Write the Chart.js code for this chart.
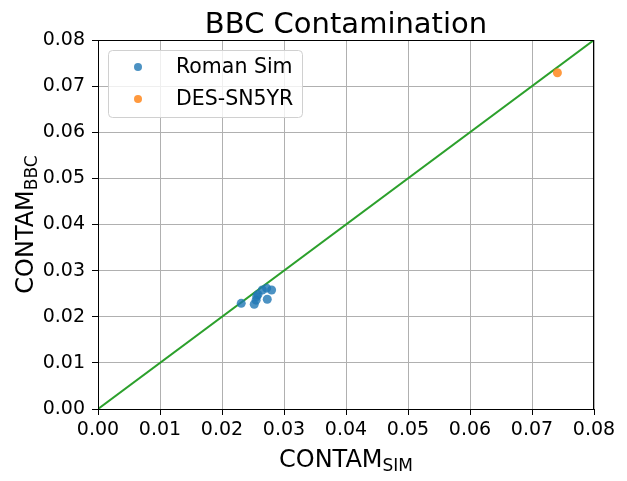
<!DOCTYPE html>
<html lang="en">
<head>
    <meta charset="UTF-8">
    <title>BBC Contamination</title>
    <script src="https://cdn.jsdelivr.net/npm/chart.js"></script>
    <style>
        body { margin: 0; background: #fff; }
        #wrap { width: 627px; height: 481px; }
    </style>
</head>
<body>
<div id="wrap"><canvas id="chart"></canvas></div>
<script>
  // Data
  const romanSimX = [0.0231, 0.0252, 0.0255, 0.0256, 0.0258, 0.0265, 0.0272, 0.0280, 0.0273];
  const romanSimY = [0.0229, 0.0227, 0.0236, 0.0244, 0.0248, 0.0258, 0.0262, 0.0258, 0.0238];
  const desX = [0.0741];
  const desY = [0.0729];
  const lineX = [0, 0.08];
  const lineY = [0, 0.08];
  const seriesNames = ['Roman Sim', 'DES-SN5YR'];
  const chartTitle = 'BBC Contamination';

  const FONT = "'DejaVu Sans', sans-serif";
  const blue = 'rgba(31,119,180,0.8)';
  const orange = 'rgba(255,127,14,0.8)';
  const toPoints = (xs, ys) => xs.map((x, i) => ({ x: x, y: ys[i] }));

  // title, axis labels with subscripts, frame and legend
  const decor = {
    id: 'decor',
    afterDraw(chart) {
      const ctx = chart.ctx;
      const a = chart.chartArea;
      ctx.save();
      ctx.strokeStyle = '#000';
      ctx.lineWidth = 1;
      ctx.strokeRect(a.left + 0.5, a.top + 0.5, a.right - a.left - 1, a.bottom - a.top);

      ctx.fillStyle = '#000';
      ctx.textBaseline = 'alphabetic';
      ctx.font = '29px ' + FONT;
      ctx.textAlign = 'center';
      ctx.fillText(chartTitle, (a.left + a.right) / 2, 33);

      function subLabel(main, sub, cx, cy) {
        ctx.font = '24px ' + FONT;
        const w1 = ctx.measureText(main).width;
        ctx.font = '17px ' + FONT;
        const w2 = ctx.measureText(sub).width;
        const x0 = cx - (w1 + w2) / 2;
        ctx.textAlign = 'left';
        ctx.font = '24px ' + FONT;
        ctx.fillText(main, x0, cy);
        ctx.font = '17px ' + FONT;
        ctx.fillText(sub, x0 + w1, cy + 4);
      }
      subLabel('CONTAM', 'SIM', (a.left + a.right) / 2, 467);
      ctx.save();
      ctx.translate(33, (a.top + a.bottom) / 2);
      ctx.rotate(-Math.PI / 2);
      subLabel('CONTAM', 'BBC', 0, 0);
      ctx.restore();

      // legend
      const lx = 108, ly = 50, lw = 194, lh = 67;
      ctx.fillStyle = 'rgba(255,255,255,0.8)';
      ctx.strokeStyle = '#d0d0d0';
      ctx.beginPath();
      ctx.roundRect(lx + 0.5, ly + 0.5, lw, lh, 4);
      ctx.fill();
      ctx.stroke();
      const cols = [blue, orange];
      ctx.font = '20.5px ' + FONT;
      ctx.textAlign = 'left';
      ctx.textBaseline = 'middle';
      seriesNames.forEach((name, i) => {
        const y = 67 + i * 32;
        ctx.fillStyle = cols[i];
        ctx.beginPath();
        ctx.arc(138, y, 4, 0, Math.PI * 2);
        ctx.fill();
        ctx.fillStyle = '#000';
        ctx.fillText(name, 176, y + 1);
      });
      ctx.restore();
    }
  };

  const tickFont = { family: FONT, size: 19 };

  new Chart(document.getElementById('chart'), {
    type: 'scatter',
    data: {
      datasets: [
        { label: 'y=x', data: toPoints(lineX, lineY), showLine: true, borderColor: '#2ca02c',
          borderWidth: 2, pointRadius: 0, order: 3 },
        { label: seriesNames[0], data: toPoints(romanSimX, romanSimY), backgroundColor: blue,
          borderWidth: 0, pointRadius: 4.5, order: 1 },
        { label: seriesNames[1], data: toPoints(desX, desY), backgroundColor: orange,
          borderWidth: 0, pointRadius: 4.5, order: 2 }
      ]
    },
    options: {
      responsive: true,
      maintainAspectRatio: false,
      animation: false,
      layout: { padding: { left: 0, right: 33, top: 40, bottom: 0 } },
      plugins: { legend: { display: false }, tooltip: { enabled: false }, title: { display: false } },
      scales: {
        x: {
          type: 'linear', min: 0, max: 0.08,
          afterFit: s => { s.height = 72; },
          grid: { color: '#b0b0b0', tickColor: '#000', tickLength: 6 },
          border: { display: false },
          ticks: { stepSize: 0.01, color: '#000', font: tickFont, padding: 4,
                   maxRotation: 0, callback: v => v.toFixed(2) }
        },
        y: {
          type: 'linear', min: 0, max: 0.08,
          afterFit: s => { s.width = 98; },
          grid: { color: '#b0b0b0', tickColor: '#000', tickLength: 6 },
          border: { display: false },
          ticks: { stepSize: 0.01, color: '#000', font: tickFont, padding: 7,
                   callback: v => v.toFixed(2) }
        }
      }
    },
    plugins: [decor]
  });
</script>
</body>
</html>
